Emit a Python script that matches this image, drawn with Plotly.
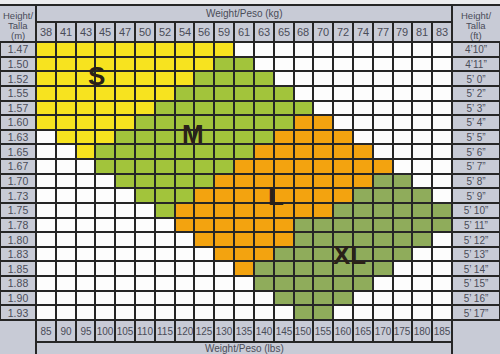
import plotly.graph_objects as go

# ---------------- data ----------------
kg = ["38", "41", "43", "45", "47", "50", "52", "54", "56", "59", "61",
      "63", "65", "68", "70", "72", "74", "77", "79", "81", "83"]
lbs = ["85", "90", "95", "100", "105", "110", "115", "120", "125", "130", "135",
       "140", "145", "150", "155", "160", "165", "170", "175", "180", "185"]
height_m = ["1.47", "1.50", "1.52", "1.55", "1.57", "1.60", "1.63", "1.65", "1.67", "1.70",
            "1.73", "1.75", "1.78", "1.80", "1.83", "1.85", "1.88", "1.90", "1.93"]
height_ft = ["4’10”", "4’11”", "5’ 0”", "5’ 2”", "5’ 3”", "5’ 4”", "5’ 5”", "5’ 6”", "5’ 7”",
             "5’ 8”", "5’ 9”", "5’ 10”", "5’ 11”", "5’ 12”", "5’ 13”", "5’ 14”", "5’ 15”",
             "5’ 16”", "5’ 17”"]
# one string per height row, one character per weight column
# S = small, M = medium, L = large, X = extra large, . = no size
size_rows = [
    "SSSSSSSSSS...........",
    "SSSSSSSSSMM..........",
    "SSSSSSSSMMMM.........",
    "SSSSSSSMMMMMM........",
    "SSSSSSMMMMMMMM.......",
    "SSSSSMMMMMMMMLL......",
    ".SSSMMMMMMMMLLLL.....",
    "..SMMMMMMMMLLLLLL....",
    "...MMMMMMMLLLLLLLL...",
    "....MMMMMLLLLLLLLXX..",
    ".....MMMLLLLLLLLXXXX.",
    "......MLLLLLLLLXXXXXX",
    ".......LLLLLLXXXXXXXX",
    "........LLLLLXXXXXXX.",
    ".........LLLXXXXXXX..",
    "..........LXXXXXXX...",
    "...........XXXXXX....",
    "............XXXX.....",
    ".............XX......",
]
size_codes = {".": 0, "S": 1, "M": 2, "L": 3, "X": 4}
size_labels = ["S", "M", "L", "XL"]
# label anchor in (column index, row index) units of the grid
label_col = [2.53, 7.43, 11.61, 15.35]
label_row = [1.82, 5.79, 10.03, 14.06]

# ---------------- styling ----------------
W, H = 500, 354
LINE = "#262626"
HEAD = "#c8cbd6"
TXT = "#4a4c58"
FONT = "Liberation Sans Narrow, Liberation Sans, Arial, sans-serif"
colors = ["#fdfdfd", "#f7e31f", "#a2c43b", "#f3a30f", "#8fac5b"]

def px_x(x):
    return x / W

def px_y(y):
    return 1 - y / H

GX0, GX1 = 36, 452
GY0, GY1 = 42, 320

z = [[size_codes[c] for c in row] for row in size_rows]
cs = []
n = len(colors)
for i, c in enumerate(colors):
    cs.append([i / n, c])
    cs.append([(i + 1) / n, c])

fig = go.Figure()

# main grid
fig.add_trace(go.Heatmap(
    x=kg, y=height_m, z=z, colorscale=cs, zmin=-0.5, zmax=4.5,
    showscale=False, xgap=2, ygap=2, hoverinfo="skip",
    xaxis="x", yaxis="y"))

grey = [[0, HEAD], [1, HEAD]]
# kg header row
fig.add_trace(go.Heatmap(
    x=kg, y=["kg"], z=[[0] * len(kg)], text=[kg], texttemplate="%{text}",
    textfont=dict(size=11, color=TXT, family=FONT),
    colorscale=grey, showscale=False, xgap=2, ygap=2, hoverinfo="skip",
    xaxis="x2", yaxis="y2"))
# lbs footer row
fig.add_trace(go.Heatmap(
    x=lbs, y=["lbs"], z=[[0] * len(lbs)], text=[lbs], texttemplate="%{text}",
    textfont=dict(size=10, color=TXT, family=FONT),
    colorscale=grey, showscale=False, xgap=2, ygap=2, hoverinfo="skip",
    xaxis="x3", yaxis="y3"))
# metres column
fig.add_trace(go.Heatmap(
    x=["m"], y=height_m, z=[[0] for _ in height_m], text=[[h] for h in height_m],
    texttemplate="%{text}", textfont=dict(size=10.5, color=TXT, family=FONT),
    colorscale=grey, showscale=False, xgap=2, ygap=2, hoverinfo="skip",
    xaxis="x4", yaxis="y4"))
# feet column
fig.add_trace(go.Heatmap(
    x=["ft"], y=height_ft, z=[[0] for _ in height_ft], text=[[h] for h in height_ft],
    texttemplate="%{text}", textfont=dict(size=10, color=TXT, family=FONT),
    colorscale=grey, showscale=False, xgap=2, ygap=2, hoverinfo="skip",
    xaxis="x5", yaxis="y5"))

ax = dict(showgrid=False, zeroline=False, showticklabels=False, ticks="",
          fixedrange=True, showline=False)
gx = [px_x(GX0), px_x(GX1)]
layout = dict(
    width=W, height=H, margin=dict(l=0, r=0, t=0, b=0),
    paper_bgcolor=HEAD, plot_bgcolor=LINE, showlegend=False,
    xaxis=dict(ax, domain=gx, anchor="y"),
    yaxis=dict(ax, domain=[px_y(GY1), px_y(GY0)], autorange="reversed", anchor="x"),
    xaxis2=dict(ax, domain=gx, anchor="y2"),
    yaxis2=dict(ax, domain=[px_y(GY0), px_y(22)], anchor="x2"),
    xaxis3=dict(ax, domain=gx, anchor="y3"),
    yaxis3=dict(ax, domain=[px_y(342), px_y(GY1)], anchor="x3"),
    xaxis4=dict(ax, domain=[0, px_x(GX0)], anchor="y4"),
    yaxis4=dict(ax, domain=[px_y(GY1), px_y(GY0)], autorange="reversed", anchor="x4"),
    xaxis5=dict(ax, domain=[px_x(GX1), 1], anchor="y5"),
    yaxis5=dict(ax, domain=[px_y(GY1), px_y(GY0)], autorange="reversed", anchor="x5"),
)
fig.update_layout(**layout)

def pline(x0, y0, x1, y1, w=2):
    fig.add_shape(type="line", xref="paper", yref="paper",
                  x0=px_x(x0), x1=px_x(x1), y0=px_y(y0), y1=px_y(y1),
                  line=dict(color=LINE, width=w))

fig.add_shape(type="rect", xref="paper", yref="paper", x0=0, x1=1,
              y0=px_y(4), y1=1, fillcolor="#ececee", line=dict(width=0), layer="below")
pline(0, 5, W, 5)
pline(GX0, 5, GX0, H)
pline(GX1, 5, GX1, H)
pline(GX0, 22, GX1, 22)
pline(0, GY0, W, GY0)
pline(0, GY1, W, GY1)
pline(GX0, 342, GX1, 342)

def ptext(x, y, s, size=9.5):
    fig.add_annotation(xref="paper", yref="paper", x=px_x(x), y=px_y(y), text=s,
                       showarrow=False, font=dict(size=size, color=TXT, family=FONT),
                       xanchor="center", yanchor="middle")

for line_txt, yy in zip(["Height/", "Talla", "(m)"], [15.5, 26, 36]):
    ptext(18, yy, line_txt)
for line_txt, yy in zip(["Height/", "Talla", "(ft)"], [15.5, 26, 36]):
    ptext(476, yy, line_txt)
ptext((GX0 + GX1) / 2, 13.5, "Weight/Peso (kg)", 10)
ptext((GX0 + GX1) / 2, 348.5, "Weight/Peso (lbs)", 10)

for s, c, r in zip(size_labels, label_col, label_row):
    fig.add_annotation(xref="x", yref="y", x=c, y=r, text="<b>%s</b>" % s,
                       showarrow=False,
                       font=dict(size=26, color="#2a2118", family="Liberation Sans, Arial, sans-serif"))

fig.write_html("out.html")
